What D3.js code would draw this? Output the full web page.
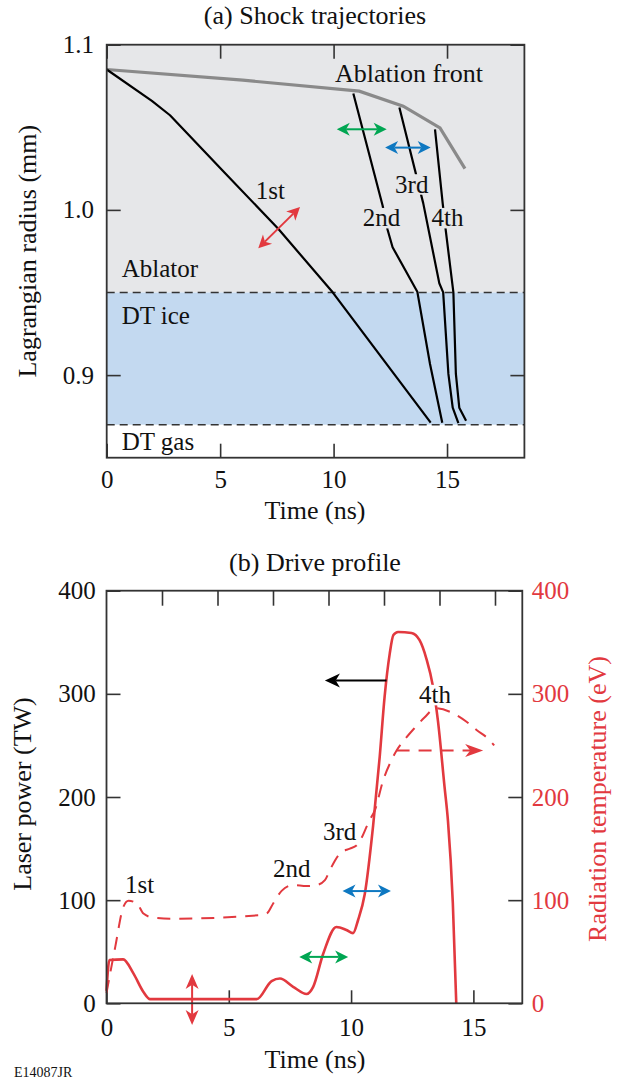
<!DOCTYPE html>
<html><head><meta charset="utf-8">
<script src="https://cdn.jsdelivr.net/npm/d3@7"></script>
<style>
body{margin:0;background:#fff}
svg{display:block}
text{font-family:"Liberation Serif","Times New Roman",serif}
</style>
</head><body>
<svg id="c" width="623" height="1081"></svg>
<script>
// ================= DATA =================
// (a) Shock trajectories: [time ns, Lagrangian radius mm]
const timeDomainA = [0, 18.41];
const radiusDomain = [0.85, 1.1];
const radiusTicks = [0.9, 1.0, 1.1];
const timeTicks = [0, 5, 10, 15];
const iceTop = 0.95;      // ablator / DT ice boundary
const iceBottom = 0.87;   // DT ice / DT gas boundary
const ablationFront = [[0,1.085],[6,1.0785],[11.13,1.0719],[13.07,1.0628],[14.69,1.0496],[15.79,1.025]];
const shock1 = [[0,1.085],[1.99,1.066],[2.79,1.0573],[5.2,1.0225],[7.56,0.9886],[9.96,0.9501],[14.28,0.8712]];
const shock2 = [[10.87,1.0705],[12.16,1.0027],[12.38,0.988],[12.6,0.9774],[13.69,0.9505],[14.25,0.9067],[14.79,0.8712]];
const shock3 = [[12.9,1.062],[13.95,1.0041],[14.66,0.9556],[14.83,0.9501],[15.06,0.9007],[15.25,0.8803],[15.5,0.8709]];
const shock4 = [[14.47,1.0488],[14.81,1.0038],[14.94,0.988],[15.28,0.9501],[15.39,0.9007],[15.54,0.8803],[15.84,0.8723]];
// arrows (a): [t1,r1,t2,r2]
const arrowGreenA = [10.14,1.0488,12.34,1.0488];
const arrowBlueA  = [12.27,1.0377,14.28,1.0377];
const arrowRedA   = [8.52,1.0017,6.68,0.9768];
// labels (a): [text, t, r]
const labelsA = [["Ablation front",10.06,1.0776],["1st",6.57,1.0068],["2nd",11.28,0.990],["3rd",12.71,1.0104],["4th",14.32,0.990]];
const regionLabelsA = [["Ablator",0.66,0.9592],["DT ice",0.66,0.931],["DT gas",0.66,0.8547]];

// (b) Drive profile
const timeDomainB = [0, 17];
const topTickDomainB = [0, 18.73];
const topTicksB = [2.5,5,7.5,10,12.5,15,17.5];
const powerDomain = [0, 400];
const powerTicks = [0,100,200,300,400];
const laserPower = [[0,12],[0.12,42],[0.68,42.6],[1.1,29],[1.51,11],[1.78,4],[6.14,4],[6.75,21.6],[7.09,24],[7.63,16],[8.18,9],[8.45,16],[8.86,48],[9.4,74],[9.81,71],[10.08,68],[10.29,81],[10.56,106],[10.9,172],[11.17,239],[11.37,297],[11.58,339],[11.73,357],[11.92,360],[12.47,359],[12.8,352],[13.08,334],[13.35,307],[13.55,274],[13.82,210],[13.96,177],[14.16,97],[14.3,0]];
const radTemp = [[0,10],[0.36,55],[0.69,93.5],[0.9,99.4],[1.24,97],[1.51,87],[1.92,83],[2.73,82],[6.27,85.5],[6.55,87],[6.82,97],[7.16,109],[7.63,114.6],[8.18,113.6],[8.59,114.6],[8.93,119.4],[9.13,129],[9.54,145],[9.95,150],[10.22,153],[10.42,160],[10.63,171],[10.76,177.7],[10.97,187],[11.31,216],[11.65,235.6],[11.86,245],[12.2,256],[12.6,267],[13.0,277],[13.45,286],[14.1,282],[14.72,273],[15.13,265],[15.67,255],[15.85,250]];
// arrows (b): [t1,v1,t2,v2]
const arrowBlackB = [11.45,313,8.93,313];
const arrowDashB  = [11.86,245,15.4,245];
const arrowRedB   = [3.5,28.4,3.5,-21];
const arrowGreenB = [7.88,45,9.88,45];
const arrowBlueB  = [9.65,108.8,11.63,108.8];
const labelsB = [["1st",0.76,107.4],["2nd",6.81,122],["3rd",8.85,158.3],["4th",12.78,290.8]];

// ================= DRAW =================
const svg = d3.select("#c");
const red = "#e2393f", green = "#00a652", blue = "#0e78c1", frameCol = "#333";
const grayBg = "#e6e7e9", iceBg = "#c3d9f0";

function arrowHead(g, tx, ty, ux, uy, len, hw, color){
  const nx = -uy, ny = ux;
  const bx = tx - ux*len, by = ty - uy*len;
  const mx = tx - ux*len*0.72, my = ty - uy*len*0.72;
  g.append("path")
   .attr("d", `M${tx},${ty}L${bx+nx*hw},${by+ny*hw}L${mx},${my}L${bx-nx*hw},${by-ny*hw}Z`)
   .attr("fill", color);
  return [mx, my];
}
function arrow(g, x1,y1,x2,y2, color, opts){
  const o = Object.assign({len:13, hw:6.5, sw:2, both:true, dash:null}, opts||{});
  const dx = x2-x1, dy = y2-y1, L = Math.hypot(dx,dy), ux = dx/L, uy = dy/L;
  const e2 = arrowHead(g, x2,y2, ux,uy, o.len,o.hw,color);
  let s = [x1,y1];
  if (o.both) s = arrowHead(g, x1,y1, -ux,-uy, o.len,o.hw,color);
  g.append("line").attr("x1",s[0]).attr("y1",s[1]).attr("x2",e2[0]).attr("y2",e2[1])
   .attr("stroke",color).attr("stroke-width",o.sw).attr("stroke-dasharray",o.dash);
}
function boxedText(g, txt, x, y, size, fill, bg){
  const t = g.append("text").attr("x",x).attr("y",y).attr("font-size",size).attr("fill",fill).text(txt);
  if (bg){
    const b = t.node().getBBox();
    g.insert("rect", () => t.node()).attr("x",b.x-1).attr("y",y-size*0.74)
      .attr("width",b.width+2).attr("height",size*0.74+2).attr("fill",bg);
  }
  return t;
}
function styleAxis(g, size, color){
  g.select(".domain").remove();
  g.selectAll(".tick line").attr("stroke",frameCol).attr("stroke-width",1.6);
  g.selectAll(".tick text").attr("font-size",size).attr("fill",color)
   .attr("font-family","'Liberation Serif','Times New Roman',serif");
}

// ---------- Panel (a) ----------
const A = {l:106.7, r:524.4, t:44.7, b:457.7};
const xA = d3.scaleLinear().domain(timeDomainA).range([A.l, A.r]);
const yA = d3.scaleLinear().domain(radiusDomain).range([A.b, A.t]);
const gA = svg.append("g");

gA.append("rect").attr("x",A.l).attr("y",yA(radiusDomain[1])).attr("width",A.r-A.l)
  .attr("height",yA(iceTop)-yA(radiusDomain[1])).attr("fill",grayBg);
gA.append("rect").attr("x",A.l).attr("y",yA(iceTop)).attr("width",A.r-A.l)
  .attr("height",yA(iceBottom)-yA(iceTop)).attr("fill",iceBg);
[iceTop, iceBottom].forEach(v => gA.append("line").attr("x1",A.l).attr("x2",A.r)
  .attr("y1",yA(v)).attr("y2",yA(v)).attr("stroke",frameCol).attr("stroke-width",1.5).attr("stroke-dasharray","8,5"));

const lineA = d3.line().x(d=>xA(d[0])).y(d=>yA(d[1]));
gA.append("path").attr("d",lineA(ablationFront)).attr("fill","none").attr("stroke","#8a8a8a").attr("stroke-width",3.2);
[shock1,shock2,shock3,shock4].forEach(s => gA.append("path").attr("d",lineA(s))
  .attr("fill","none").attr("stroke","#000").attr("stroke-width",2.2).attr("stroke-linejoin","round"));

labelsA.forEach(([t,tt,r]) => boxedText(gA, t, xA(tt), yA(r), t==="Ablation front"?26:25, "#111",
  (t==="2nd"||t==="3rd"||t==="4th") ? grayBg : null));
regionLabelsA.forEach(([t,tt,r]) => boxedText(gA, t, xA(tt), yA(r), 25, "#111", null));

arrow(gA, xA(arrowGreenA[0]),yA(arrowGreenA[1]),xA(arrowGreenA[2]),yA(arrowGreenA[3]), green);
arrow(gA, xA(arrowBlueA[0]),yA(arrowBlueA[1]),xA(arrowBlueA[2]),yA(arrowBlueA[3]), blue);
arrow(gA, xA(arrowRedA[0]),yA(arrowRedA[1]),xA(arrowRedA[2]),yA(arrowRedA[3]), red);

const axA1 = gA.append("g").attr("transform",`translate(0,${A.b})`)
  .call(d3.axisBottom(xA).tickValues(timeTicks).tickSize(-14).tickPadding(12.5).tickFormat(d3.format("d")));
styleAxis(axA1, 25, "#111");
const axA2 = gA.append("g").attr("transform",`translate(0,${A.t})`)
  .call(d3.axisTop(xA).tickValues(timeTicks).tickSize(-14).tickFormat(""));
styleAxis(axA2, 25, "#111");
const axA3 = gA.append("g").attr("transform",`translate(${A.l},0)`)
  .call(d3.axisLeft(yA).tickValues(radiusTicks).tickSize(-14).tickPadding(12.7).tickFormat(d3.format(".1f")));
styleAxis(axA3, 25, "#111");
const axA4 = gA.append("g").attr("transform",`translate(${A.r},0)`)
  .call(d3.axisRight(yA).tickValues(radiusTicks).tickSize(-14).tickFormat(""));
styleAxis(axA4, 25, "#111");
gA.append("rect").attr("x",A.l).attr("y",A.t).attr("width",A.r-A.l).attr("height",A.b-A.t)
  .attr("fill","none").attr("stroke",frameCol).attr("stroke-width",1.8);

svg.append("text").attr("x",315).attr("y",24).attr("text-anchor","middle").attr("font-size",26).attr("fill","#111").text("(a) Shock trajectories");
svg.append("text").attr("x",315).attr("y",518.5).attr("text-anchor","middle").attr("font-size",26).attr("fill","#111").text("Time (ns)");
svg.append("text").attr("transform",`translate(36,${(A.t+A.b)/2}) rotate(-90)`).attr("text-anchor","middle")
  .attr("font-size",26).attr("fill","#111").text("Lagrangian radius (mm)");

// ---------- Panel (b) ----------
const B = {l:106.5, r:522.3, t:590.7, b:1003.3};
const xB = d3.scaleLinear().domain(timeDomainB).range([B.l, B.r]);
const xBtop = d3.scaleLinear().domain(topTickDomainB).range([B.l, B.r]);
const yB = d3.scaleLinear().domain(powerDomain).range([B.b, B.t]);
const gB = svg.append("g");

const axB1 = gB.append("g").attr("transform",`translate(0,${B.b})`)
  .call(d3.axisBottom(xB).tickValues(timeTicks).tickSize(-13).tickPadding(15).tickFormat(d3.format("d")));
styleAxis(axB1, 25, "#111");
const axB2 = gB.append("g").attr("transform",`translate(0,${B.t})`)
  .call(d3.axisTop(xBtop).tickValues(topTicksB).tickSize(-15).tickFormat(""));
styleAxis(axB2, 25, "#111");
const axB3 = gB.append("g").attr("transform",`translate(${B.l},0)`)
  .call(d3.axisLeft(yB).tickValues(powerTicks).tickSize(-14).tickPadding(10.7).tickFormat(d3.format("d")));
styleAxis(axB3, 25, "#111");
const axB4 = gB.append("g").attr("transform",`translate(${B.r},0)`)
  .call(d3.axisRight(yB).tickValues(powerTicks).tickSize(-14).tickPadding(9.4).tickFormat(d3.format("d")));
styleAxis(axB4, 25, red);

const lineB = d3.line().x(d=>xB(d[0])).y(d=>yB(d[1])).curve(d3.curveMonotoneX);
gB.append("path").attr("d",lineB(radTemp)).attr("fill","none").attr("stroke",red)
  .attr("stroke-width",2).attr("stroke-dasharray","13,9");
gB.append("path").attr("d",lineB(laserPower)).attr("fill","none").attr("stroke",red)
  .attr("stroke-width",2.6).attr("stroke-linejoin","round");

labelsB.forEach(([t,tt,v]) => boxedText(gB, t, xB(tt), yB(v), 25, "#111", t==="4th" ? "#fff" : null));

arrow(gB, xB(arrowBlackB[0]),yB(arrowBlackB[1]),xB(arrowBlackB[2]),yB(arrowBlackB[3]), "#000", {both:false, len:15, hw:7});
arrow(gB, xB(arrowDashB[0]),yB(arrowDashB[1]),xB(arrowDashB[2]),yB(arrowDashB[3]), red, {both:false, len:18, hw:6.5, dash:"13,9"});
arrow(gB, xB(arrowRedB[0]),yB(arrowRedB[1]),xB(arrowRedB[2]),yB(arrowRedB[3]), red, {len:15, hw:6.5});
arrow(gB, xB(arrowGreenB[0]),yB(arrowGreenB[1]),xB(arrowGreenB[2]),yB(arrowGreenB[3]), green);
arrow(gB, xB(arrowBlueB[0]),yB(arrowBlueB[1]),xB(arrowBlueB[2]),yB(arrowBlueB[3]), blue);

gB.append("rect").attr("x",B.l).attr("y",B.t).attr("width",B.r-B.l).attr("height",B.b-B.t)
  .attr("fill","none").attr("stroke",frameCol).attr("stroke-width",1.8);

svg.append("text").attr("x",315).attr("y",571).attr("text-anchor","middle").attr("font-size",26).attr("fill","#111").text("(b) Drive profile");
svg.append("text").attr("x",315).attr("y",1068).attr("text-anchor","middle").attr("font-size",26).attr("fill","#111").text("Time (ns)");
svg.append("text").attr("transform",`translate(31,794) rotate(-90)`).attr("text-anchor","middle")
  .attr("font-size",26).attr("fill","#111").text("Laser power (TW)");
svg.append("text").attr("transform",`translate(606,799) rotate(-90)`).attr("text-anchor","middle")
  .attr("font-size",26).attr("fill",red).text("Radiation temperature (eV)");
svg.append("text").attr("x",14).attr("y",1076.5).attr("font-size",14).attr("fill","#111").text("E14087JR");
</script>
</body></html>
